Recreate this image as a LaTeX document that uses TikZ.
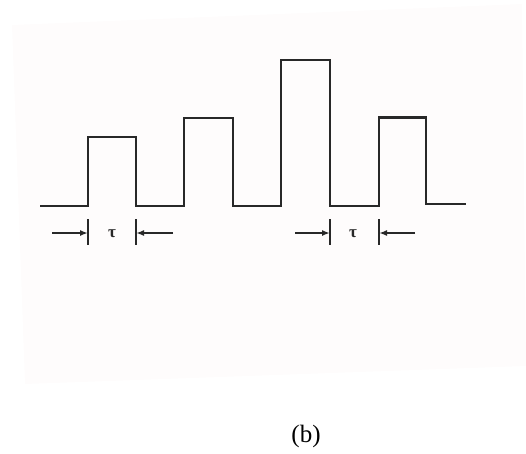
\documentclass[tikz,border=0pt]{standalone}
\usepackage{fontspec}
\setmainfont{Liberation Serif}
\usetikzlibrary{arrows.meta}
\definecolor{paper}{RGB}{254,252,252}
\definecolor{ink}{RGB}{40,40,40}
\tikzset{
  wave/.style={draw=ink, line width=2.3pt, line join=miter},
  tick/.style={draw=ink, line width=1.9pt},
  dimarrow/.style={draw=ink, line width=1.6pt, -{Latex[length=8pt,width=6pt]}},
  taulabel/.style={font=\fontsize{17}{19}\selectfont\bfseries, text=ink, inner sep=0pt},
  caption/.style={font=\fontsize{25}{28}\selectfont, inner sep=0pt}
}
\begin{document}
\begin{tikzpicture}[x=1pt,y=-1pt]
\useasboundingbox (0,0) rectangle (526,453);
\fill[paper] (12,25) -- (522,4) -- (526,366) -- (25,384) -- cycle;
% waveform corners
\coordinate (s)  at (40,206);
\coordinate (e)  at (466,204);
\draw[wave] (s) -- (88,206) -- (88,137) -- (136,137) -- (136,206)
  -- (184,206) -- (184,118) -- (233,118) -- (233,206)
  -- (281,206) -- (281,60) -- (330,60) -- (330,206)
  -- (379,206) -- (379,117.5) -- (426,117.5) -- (426,204) -- (e);
% first tau
\coordinate (t1a) at (88,219);  \coordinate (t1ab) at (88,245);
\coordinate (t1b) at (136,219); \coordinate (t1bb) at (136,245);
\draw[tick] (t1a) -- (t1ab);
\draw[tick] (t1b) -- (t1bb);
\coordinate (a1s) at (52,233);  \coordinate (a1e) at (88,233);
\coordinate (a2s) at (173,233); \coordinate (a2e) at (136,233);
\draw[dimarrow] (a1s) -- (a1e);
\draw[dimarrow] (a2s) -- (a2e);
\node[taulabel] (tau1) at (112,234) {τ};
% second tau
\coordinate (t2a) at (330,219); \coordinate (t2ab) at (330,245);
\coordinate (t2b) at (379,219); \coordinate (t2bb) at (379,245);
\draw[tick] (t2a) -- (t2ab);
\draw[tick] (t2b) -- (t2bb);
\coordinate (a3s) at (295,233); \coordinate (a3e) at (330,233);
\coordinate (a4s) at (415,233); \coordinate (a4e) at (379,233);
\draw[dimarrow] (a3s) -- (a3e);
\draw[dimarrow] (a4s) -- (a4e);
\node[taulabel] (tau2) at (353,234) {τ};
% caption
\node[caption] (cap) at (306,436) {(b)};
\end{tikzpicture}
\end{document}
